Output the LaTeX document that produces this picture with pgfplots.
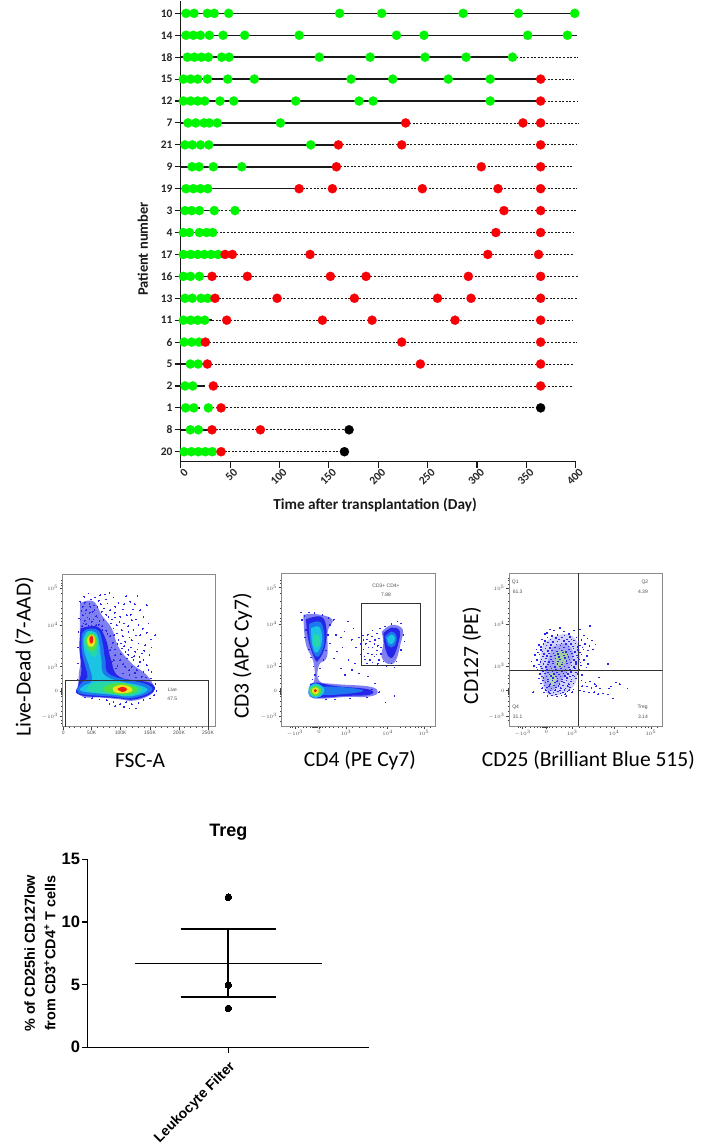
\documentclass[border=0pt]{standalone}
\usepackage{fontspec}
\usepackage{pgfplots}
\pgfplotsset{compat=1.18}
\setmainfont{Carlito}
\newfontfamily\arialf{Liberation Sans}
\definecolor{fgreen}{HTML}{00F500}
\definecolor{fred}{HTML}{F80006}
\definecolor{dBlue}{HTML}{2626EA}
\definecolor{dLight}{HTML}{8080F0}
\definecolor{dMid}{HTML}{1C78EC}
\definecolor{dCyan}{HTML}{1CC4E4}
\definecolor{dTeal}{HTML}{26D8A8}
\definecolor{dGreen}{HTML}{50E040}
\definecolor{dYellow}{HTML}{F2E21E}
\definecolor{dRed}{HTML}{EE1E10}
\definecolor{frame}{HTML}{8A8A8A}
\tikzset{flowlabel/.style={font=\arialf\fontsize{5}{6}\selectfont,text=black!70}}
\pgfplotsset{
  region/.style={draw=none,fill=#1,smooth,tension=0.7,forget plot},
  dots/.style={only marks,mark=*,mark size=4.6pt,color=#1,mark options={solid,draw=#1,fill=#1,line width=0.2pt}},
  specks/.style={only marks,mark=*,mark size=0.32pt,color=dBlue,mark options={draw=dBlue,fill=dBlue,line width=0pt}},
  flowpanel/.style={
    scale only axis,width=153.3pt,height=152.7pt,
    y dir=reverse,clip=true,
    axis line style={frame,line width=1pt},
    tick align=outside,xtick pos=lower,ytick pos=left,xticklabel pos=lower,
    major tick length=3pt,minor tick length=1.6pt,
    tick style={black!75,line width=0.45pt},
    ticklabel style={font=\arialf\fontsize{5}{5.5}\selectfont,text=black!70,inner sep=1.5pt},
    every axis x label/.style={at={(axis description cs:#1,-0.225)},anchor=center,font=\fontsize{21.5}{25}\selectfont},
  },
}
\begin{document}
\begin{tikzpicture}
\path[use as bounding box] (0pt,0pt) rectangle (709pt,-1145pt);

% follow-up timeline per patient
\begin{axis}[
  at={(180.7pt,-461.7pt)},anchor=south west,
  scale only axis,width=395pt,height=460.4pt,
  xmin=0,xmax=400,ymin=-0.456,ymax=20.55,clip=false,
  axis lines=left,axis line style={-,line width=1.4pt,black!90},
  xtick={0,50,...,400},
  xticklabels={0,50,100,150,200,250,300,350,400},
  ytick={0,...,20},
  yticklabels={20,8,1,2,5,6,11,13,16,17,4,3,19,9,21,7,12,15,18,14,10},
  major tick length=6pt,tick style={line width=1.1pt,black!90},tick align=outside,
  xticklabel style={font=\bfseries\fontsize{11.5}{12}\selectfont,rotate=45,anchor=north east,inner sep=1pt,xshift=3pt,yshift=-1pt,text=black!85},
  yticklabel style={font=\bfseries\fontsize{11.5}{12}\selectfont,inner sep=2pt,text=black!85},
  xlabel={Time after transplantation (Day)},
  ylabel={Patient number},
  every axis x label/.style={at={(axis description cs:0.492,-0.094)},anchor=center,font=\bfseries\fontsize{15.3}{17}\selectfont,text=black!90},
  every axis y label/.style={at={(axis description cs:-0.096,0.462)},rotate=90,anchor=center,font=\bfseries\fontsize{14.5}{16}\selectfont,text=black!90},
  unbounded coords=jump,
]
\addplot[black!90,line width=0.8pt,dash pattern=on 2pt off 1.6pt] coordinates {
 (336,18)(402,18)(nan,nan)(364.5,17)(398,17)(nan,nan)(364.5,16)(401,16)(nan,nan)
 (227.8,15)(403,15)(nan,nan)(159.7,14)(401,14)(nan,nan)(157.7,13)(397,13)(nan,nan)
 (119.9,12)(401,12)(nan,nan)(34,11)(401,11)(nan,nan)(32.4,10)(398,10)(nan,nan)
 (37.8,9)(398,9)(nan,nan)(31.7,8)(403,8)(nan,nan)(34.8,7)(401,7)(nan,nan)
 (31.7,6)(397,6)(nan,nan)(25,5)(401,5)(nan,nan)(27,4)(397,4)(nan,nan)
 (33,3)(397,3)(nan,nan)(28,2)(364.5,2)(nan,nan)(31.7,1)(170.5,1)(nan,nan)(40.9,0)(165.8,0)};
\addplot[black!90,line width=1.5pt] coordinates {
 (0,20)(399,20)(nan,nan)(0,19)(401.5,19)(nan,nan)(0,18)(336,18)(nan,nan)
 (0,17)(364.5,17)(nan,nan)(0,16)(364.5,16)(nan,nan)(0,15)(227.8,15)(nan,nan)
 (0,14)(159.7,14)(nan,nan)(0,13)(157.7,13)(nan,nan)(0,12)(119.9,12)(nan,nan)
 (0,11)(34,11)(nan,nan)(0,10)(32.4,10)(nan,nan)(0,9)(37.8,9)(nan,nan)
 (0,8)(31.7,8)(nan,nan)(0,7)(34.8,7)(nan,nan)(0,6)(31.7,6)(nan,nan)
 (0,5)(25,5)(nan,nan)(0,4)(27,4)(nan,nan)(0,3)(25,3)(nan,nan)(0,2)(20,2)(nan,nan)
 (0,1)(31.7,1)(nan,nan)(0,0)(40.9,0)};
% no rejection yet
\addplot[dots=fgreen] coordinates {
 (5.4,20)(13.5,20)(27,20)(34,20)(48.6,20)(161,20)(203.6,20)(286,20)(342,20)(399,20)
 (5.4,19)(12.8,19)(20,19)(29,19)(42.9,19)(64.8,19)(120,19)(218.5,19)(246.4,19)(351.4,19)(391.6,19)
 (6.8,18)(13.8,18)(21,18)(28,18)(41.5,18)(49,18)(140.4,18)(191.8,18)(247.4,18)(289,18)(336,18)
 (2.7,17)(10,17)(17.2,17)(27,17)(47.6,17)(74.6,17)(172.5,17)(214.7,17)(271,17)(313.4,17)
 (2.7,16)(10,16)(17.2,16)(24.3,16)(39.8,16)(53.7,16)(116.5,16)(180.6,16)(194.8,16)(313.4,16)
 (7.4,15)(15.2,15)(23.6,15)(29,15)(37,15)(101,15)
 (4.4,14)(11.8,14)(20,14)(28.4,14)(131.7,14)
 (11.5,13)(18.6,13)(33,13)(61.8,13)
 (5.4,12)(12.8,12)(20,12)(27.3,12)
 (4.4,11)(11.1,11)(18.9,11)(34,11)(55,11)
 (2.7,10)(8.8,10)(18.9,10)(26.3,10)(32.4,10)
 (2.7,9)(10,9)(17.2,9)(24,9)(30.7,9)(37.8,9)
 (2.7,8)(10,8)(18.9,8)
 (4.4,7)(11.8,7)(20.6,7)(27.3,7)
 (2.7,6)(10,6)(17.2,6)(24.3,6)
 (3.4,5)(11.1,5)(18.6,5)
 (9.8,4)(17.6,4)
 (4.4,3)(12.2,3)
 (5,2)(13.2,2)(28,2)
 (9.8,1)(17.9,1)
 (3.4,0)(10.8,0)(17.9,0)(25,0)(32,0)};
% rejection
\addplot[dots=fred] coordinates {
 (364.5,17)(364.5,16)(227.8,15)(346.6,15)(364.5,15)
 (159.7,14)(223.8,14)(364.5,14)(157.7,13)(304.4,13)(364.5,13)
 (119.9,12)(153.6,12)(244.7,12)(321.3,12)(364.5,12)
 (327.4,11)(364.5,11)(319.2,10)(364.5,10)
 (44.9,9)(52.3,9)(131,9)(311,9)(362.4,9)
 (31.7,8)(67.5,8)(151.6,8)(187.7,8)(291.3,8)(364.5,8)
 (34.8,7)(97.6,7)(175.9,7)(260,7)(294,7)(364.5,7)
 (46.6,6)(143.5,6)(193.8,6)(277.8,6)(364.5,6)
 (25,5)(223.8,5)(364.5,5)(27,4)(242.7,4)(364.5,4)
 (33,3)(364.5,3)(40.9,2)(31.7,1)(80.7,1)(40.9,0)};
% death
\addplot[dots=black] coordinates {(364.5,2)(170.5,1)(165.8,0)};
\end{axis}

% flow panel: live gate (read-off in panel pixels)
\begin{axis}[flowpanel=0.505,
  at={(62.7pt,-574pt)},anchor=north west,
  xmin=188,xmax=648,ymin=42,ymax=500,
  xtick={190,275,362,450,537,624},
  xticklabels={0,50K,100K,150K,200K,250K},
  minor xtick={207,224,241,258,292,310,327,345,380,397,415,432,467,485,502,520,554,572,589,607},
  ytick={85,195,320,394,470},
  yticklabels={$10^{5}$,$10^{4}$,$10^{3}$,$0$,$-10^{3}$},
  minor ytick={60,70,76,100,125,145,160,175,185,225,250,275,295,310,345,355,370,385,387,389,391,393,395,397,399,401,403,410,425,440,455,480,490},
  xlabel={FSC-A},
  ylabel={Live-Dead (7-AAD)},
  every axis y label/.style={at={(axis description cs:-0.25,0.458)},rotate=90,anchor=center,font=\fontsize{21.5}{25}\selectfont},
]
\addplot[region=dLight] coordinates {(240,130)(262,122)(285,128)(305,165)(335,205)(355,260)(395,310)(440,345)(462,385)(445,408)(400,422)(360,418)(300,412)(240,406)(236,350)(242,300)(240,240)(240,130)} -- cycle;
\addplot[region=dBlue] coordinates {(242,205)(292,200)(318,240)(332,295)(358,350)(448,368)(460,395)(404,418)(350,414)(238,404)(236,372)(244,330)(238,262)(242,205)} -- cycle;
\addplot[region=dMid] coordinates {(245,222)(262,207)(295,212)(308,250)(316,300)(332,345)(438,372)(452,395)(395,414)(345,410)(240,400)(240,374)(262,352)(256,320)(245,272)(245,222)} -- cycle;
\addplot[region=dCyan] coordinates {(250,235)(262,214)(288,218)(298,250)(304,300)(320,350)(425,378)(438,395)(390,409)(340,404)(248,394)(250,378)(276,362)(268,320)(252,272)(250,235)} -- cycle;
\addplot[region=dTeal] coordinates {(252,238)(268,216)(288,226)(293,258)(286,290)(270,280)(254,258)(252,238)} -- cycle;
\addplot[region=dTeal] coordinates {(282,368)(345,366)(415,380)(426,392)(388,407)(340,403)(262,391)(282,368)} -- cycle;
\addplot[region=dGreen] coordinates {(256,240)(270,221)(288,230)(290,256)(280,272)(265,266)(256,240)} -- cycle;
\addplot[region=dGreen] coordinates {(320,376)(365,368)(405,380)(412,392)(385,403)(340,400)(310,390)(320,376)} -- cycle;
\addplot[region=dYellow] coordinates {(262,235)(275,224)(285,235)(282,256)(270,260)(262,250)(262,235)} -- cycle;
\addplot[region=dYellow] coordinates {(340,382)(365,374)(392,382)(395,394)(365,400)(340,394)(340,382)} -- cycle;
\addplot[region=dRed] coordinates {(268,235)(275,226)(280,238)(276,250)(270,248)(268,235)} -- cycle;
\addplot[region=dRed] coordinates {(352,387)(367,380)(382,388)(367,396)(352,387)} -- cycle;
\addplot[specks] coordinates {
 (265,100)(252,110)(300,105)(315,103)(285,112)(272,118)(296,122)(322,130)(340,112)(355,128)(312,145)(330,150)(345,140)(372,132)(390,125)(412,108)(398,148)(420,150)(440,135)(430,170)
 (380,165)(360,170)(345,172)(325,170)(305,155)(292,140)(310,180)(332,190)(350,195)(372,190)(395,180)(415,195)(445,190)(465,225)(440,218)(420,225)(400,210)(385,215)(365,210)(350,220)
 (340,205)(355,240)(375,245)(395,240)(415,250)(435,255)(448,285)(425,280)(405,275)(385,270)(365,265)(380,295)(400,300)(420,305)(440,315)(455,335)(430,335)(410,330)(395,320)(375,320)
 (360,300)(342,225)(368,228)(388,232)(408,226)(352,252)(372,258)(392,262)(412,268)(432,272)(418,290)(402,288)(384,284)(362,282)(345,268)(430,300)(445,330)(452,355)(466,372)(470,392)
 (462,405)(450,415)(430,420)(415,428)(395,432)(378,426)(360,432)(340,425)(320,420)(298,418)(276,414)(255,412)(345,438)(372,440)(408,445)(328,432)(388,445)(248,140)(258,150)(270,140)
 (278,155)(288,168)(298,182)(248,165)(262,172)(275,185)(288,195)(250,190)(265,198)(306,198)(318,212)(330,228)(338,248)(345,285)(330,270)(335,305)(348,325)(368,340)(388,345)(408,352)
 (240,125)(236,175)(235,215)(233,262)(234,310)(232,360)(232,395)(254,128)(268,132)(281,136)(244,152)(256,160)(269,158)(283,150)(292,172)(241,178)(254,182)(268,176)(280,178)(246,198)(258,192)(274,196)(296,194)(306,210)(322,222)(334,262)(341,300)(352,318)
 (369,312)(387,330)(405,338)(425,350)(438,352)(318,164)(336,178)(358,186)(384,198)(408,178)(428,206)(392,164)(368,148)(344,158)(318,118)(302,132)(328,98)(378,108)(404,132)(452,238)(455,262)(376,276)(396,292)(414,318)(362,250)};
\addplot[black!80,line width=0.9pt] coordinates {(195,500)(195,362)(624,362)(624,500)};
\node[flowlabel] at (axis cs:517,388) {Live};
\node[flowlabel] at (axis cs:517,415) {47.5};
\end{axis}

% flow panel: CD3+ CD4+ gate
\begin{axis}[flowpanel=0.51,
  at={(281.7pt,-573.3pt)},anchor=north west,
  xmin=140,xmax=600,ymin=40,ymax=498,
  xtick={180,252,333,458,567},
  xticklabels={$-10^{3}$,$0$,$10^{3}$,$10^{4}$,$10^{5}$},
  minor xtick={165,172,190,205,215,225,232,234,236,238,240,242,244,246,248,256,262,270,282,296,310,322,352,372,395,415,435,445,495,510,525,540,550,558,585},
  ytick={83,193,318,393,470},
  yticklabels={$10^{5}$,$10^{4}$,$10^{3}$,$0$,$-10^{3}$},
  minor ytick={60,70,100,125,145,160,175,185,225,250,275,295,310,345,355,370,385,387,389,391,395,397,399,401,403,410,425,440,455,485},
  xlabel={CD4 (PE Cy7)},
  ylabel={CD3 (APC Cy7)},
  every axis y label/.style={at={(axis description cs:-0.255,0.458)},rotate=90,anchor=center,font=\fontsize{21.5}{25}\selectfont},
]
\addplot[region=dLight] coordinates {(205,165)(240,162)(292,178)(278,215)(276,290)(252,315)(252,362)(300,372)(405,380)(428,398)(400,410)(330,411)(260,416)(224,410)(222,385)(238,360)(235,305)(212,250)(205,165)} -- cycle;
\addplot[region=dBlue] coordinates {(213,178)(258,170)(274,205)(270,260)(252,298)(240,298)(220,240)(213,178)} -- cycle;
\addplot[region=dBlue] coordinates {(225,372)(250,368)(300,378)(400,388)(405,404)(330,408)(260,413)(228,410)(225,372)} -- cycle;
\addplot[region=dMid] coordinates {(222,192)(256,186)(268,230)(262,270)(244,290)(226,250)(222,192)} -- cycle;
\addplot[region=dCyan] coordinates {(228,205)(252,200)(261,232)(255,265)(242,278)(231,250)(228,205)} -- cycle;
\addplot[region=dMid] coordinates {(262,380)(330,382)(385,392)(330,402)(262,403)(262,380)} -- cycle;
\addplot[region=dCyan] coordinates {(222,380)(242,370)(265,382)(265,402)(242,414)(222,402)(222,380)} -- cycle;
\addplot[region=dTeal] coordinates {(235,225)(250,225)(255,250)(245,262)(235,250)(235,225)} -- cycle;
\addplot[region=dGreen] coordinates {(226,385)(241,376)(257,385)(257,400)(241,409)(226,400)(226,385)} -- cycle;
\addplot[region=dYellow] coordinates {(232,388)(241,382)(251,388)(251,398)(241,403)(232,398)(232,388)} -- cycle;
\addplot[region=dRed] coordinates {(237,390)(241,387)(246,391)(241,397)(237,394)(237,390)} -- cycle;
\addplot[region=dLight] coordinates {(440,215)(470,195)(503,208)(497,250)(482,302)(460,312)(440,290)(445,250)(440,215)} -- cycle;
\addplot[region=dBlue] coordinates {(445,220)(470,203)(494,213)(490,250)(476,288)(462,291)(450,262)(445,220)} -- cycle;
\addplot[region=dMid] coordinates {(450,230)(470,215)(485,230)(478,258)(460,258)(450,230)} -- cycle;
\addplot[region=dCyan] coordinates {(456,234)(470,224)(480,233)(474,250)(462,250)(456,234)} -- cycle;
\addplot[specks] coordinates {
 (198,158)(208,168)(222,158)(238,160)(262,165)(280,175)(296,180)(285,195)(200,180)(212,210)(278,225)(285,250)(210,232)(222,268)(272,272)(228,292)(265,300)(235,320)(255,325)(240,345)(250,350)(232,358)
 (302,225)(318,232)(328,215)(338,185)(355,205)(350,240)(362,262)(322,262)(306,275)(296,296)(340,300)(360,310)(318,325)(330,345)(350,330)(372,340)(398,350)(420,370)(410,388)(432,396)(395,412)(345,415)(300,418)(272,418)
 (372,232)(385,240)(398,225)(412,212)(425,220)(392,252)(405,245)(420,240)(432,235)(385,268)(398,280)(412,262)(425,272)(438,262)(390,298)(405,300)(418,290)(432,300)(445,305)(455,320)(470,310)(485,305)(478,322)(498,270)(508,245)(505,225)(498,190)(488,185)(470,192)(450,200)(435,205)(478,408)(452,428)
 (384,226)(396,238)(410,230)(378,252)(400,262)(418,252)(428,258)(376,284)(388,290)(410,284)(424,284)(438,282)(396,310)(412,308)(428,312)};
\addplot[black!80,line width=0.9pt] coordinates {(380,130)(557,130)(557,316)(380,316)(380,130)};
\node[flowlabel] at (axis cs:453,77) {CD3+ CD4+};
\node[flowlabel] at (axis cs:453,104) {7.88};
\end{axis}

% flow panel: CD25 / CD127 quadrants
\begin{axis}[flowpanel=0.516,
  at={(509.3pt,-573.3pt)},anchor=north west,
  xmin=133,xmax=593,ymin=40,ymax=498,
  xtick={173,244,322,448,558},
  xticklabels={$-10^{3}$,$0$,$10^{3}$,$10^{4}$,$10^{5}$},
  minor xtick={160,166,182,196,208,218,226,232,234,236,238,240,242,246,248,254,262,275,288,300,312,342,362,385,405,425,438,485,500,515,530,542,550,578},
  ytick={85,193,318,392,468},
  yticklabels={$10^{5}$,$10^{4}$,$10^{3}$,$0$,$-10^{3}$},
  minor ytick={55,62,72,100,125,145,160,175,185,225,250,275,295,310,345,355,370,384,386,388,390,394,396,398,400,402,410,425,440,455,480},
  xlabel={CD25 (Brilliant Blue 515)},
  ylabel={CD127 (PE)},
  every axis y label/.style={at={(axis description cs:-0.245,0.46)},rotate=90,anchor=center,font=\fontsize{21.5}{25}\selectfont},
]
\addplot[region=dLight!35] coordinates {(235,250)(280,225)(325,230)(345,275)(340,330)(325,380)(280,405)(245,400)(228,350)(225,300)(235,250)} -- cycle;
\addplot[region=dLight!70] coordinates {(262,262)(300,250)(325,280)(312,325)(290,360)(262,392)(240,380)(240,335)(262,262)} -- cycle;
\addplot[region=gray!55!dGreen!60] coordinates {(272,278)(300,272)(305,295)(290,322)(275,318)(272,278)} -- cycle;
\addplot[region=gray!55!dGreen!50] coordinates {(250,345)(268,340)(272,365)(258,378)(250,345)} -- cycle;
\addplot[specks] coordinates {
 (255,208)(268,212)(285,204)(298,215)(312,222)(328,212)(345,208)(358,226)(376,198)(240,222)(232,238)(248,232)(262,228)(278,225)(292,232)(306,238)(320,238)(335,232)(350,240)(368,236)(382,242)(222,255)(236,252)(250,248)(264,246)(278,244)(290,250)(304,252)(318,252)(332,250)(346,256)(360,252)(374,258)(392,254)
 (215,268)(228,270)(242,266)(256,264)(270,262)(284,266)(298,262)(312,268)(326,266)(340,270)(356,268)(370,272)(385,268)(210,285)(224,284)(238,282)(252,280)(266,280)(280,282)(294,278)(308,284)(322,280)(336,286)(350,284)(366,288)(200,305)(216,300)(230,298)(244,296)(258,298)(272,296)(286,298)(300,294)(314,298)(328,300)(342,298)(358,300)
 (370,312)(208,318)(222,314)(236,312)(250,314)(264,310)(278,312)(292,314)(306,310)(320,316)(334,312)(348,316)(365,322)(218,328)(232,326)(246,330)(260,326)(274,328)(288,326)(302,330)(316,328)(330,326)(344,328)(226,342)(240,340)(254,344)(268,342)(282,344)(296,340)(310,342)(324,346)(338,342)(352,345)
 (222,356)(236,354)(250,358)(264,354)(278,356)(292,358)(306,354)(320,358)(334,356)(228,370)(242,368)(256,372)(270,368)(284,372)(298,368)(312,372)(326,370)(205,396)(232,384)(246,382)(260,386)(274,382)(288,384)(302,386)(316,382)(238,398)(252,396)(266,398)(280,394)(294,398)(308,394)(322,396)(248,408)(262,406)(276,410)(290,406)(304,408)
 (350,362)(362,368)(376,364)(390,372)(402,352)(352,378)(366,380)(380,384)(394,378)(405,386)(346,392)(358,394)(372,398)(388,396)(400,402)(415,400)(432,385)(438,380)(430,404)(445,415)(453,368)(465,372)(488,386)(430,312)
 (247,219)(274,234)(299,226)(315,231)(241,243)(257,239)(283,239)(297,243)(313,245)(327,241)(341,245)(229,261)(245,257)(259,255)(275,253)(287,257)(311,259)(325,259)(339,261)(353,262)(219,277)(233,275)(249,273)(261,271)(277,274)(291,272)(303,276)(317,274)(331,276)(345,278)
 (235,290)(247,288)(259,289)(271,287)(283,291)(297,287)(311,291)(325,290)(339,292)(227,306)(241,304)(253,306)(265,304)(279,305)(293,307)(305,303)(319,307)(333,306)(347,307)(215,322)(229,320)(243,321)(257,319)(271,321)(285,320)(299,319)(313,322)(327,321)(235,335)(249,337)(263,335)(277,337)(291,335)(305,337)(319,336)(333,337)
 (231,349)(245,349)(259,348)(273,350)(287,349)(301,348)(315,350)(329,349)(235,362)(249,364)(263,362)(277,363)(291,364)(305,362)(319,364)(239,376)(253,378)(267,376)(281,378)(295,376)(309,378)(243,390)(257,391)(271,390)(285,391)(299,390)(313,390)(255,401)(273,403)(287,400)(301,402)(326,388)};
\addplot[black!80,line width=1pt] coordinates {(342,40)(342,498)};
\addplot[black!80,line width=1pt] coordinates {(133,333)(593,333)};
\node[flowlabel] at (axis cs:151,67) {Q1};
\node[flowlabel] at (axis cs:158,94) {61.3};
\node[flowlabel] at (axis cs:540,67) {Q2};
\node[flowlabel] at (axis cs:534,94) {4.39};
\node[flowlabel] at (axis cs:152,442) {Q4};
\node[flowlabel] at (axis cs:158,470) {31.1};
\node[flowlabel] at (axis cs:533,443) {Treg};
\node[flowlabel] at (axis cs:534,470) {3.14};
\end{axis}

% Treg percentage, mean and SD
\begin{axis}[
  at={(87.7pt,-1047.3pt)},anchor=south west,
  scale only axis,width=281.3pt,height=188pt,
  xmin=-1,xmax=1,ymin=0,ymax=15,clip=false,
  axis lines=left,axis line style={-,line width=1.1pt,black},
  xtick={0},xticklabels={Leukocyte Filter},
  ytick={0,5,10,15},yticklabels={0,5,10,15},
  major tick length=5.5pt,tick style={line width=1.1pt,black},tick align=outside,
  xticklabel style={font=\arialf\bfseries\fontsize{14}{16}\selectfont,rotate=45,anchor=north east,inner sep=1pt,xshift=-4pt,yshift=-4pt},
  yticklabel style={font=\arialf\bfseries\fontsize{16.5}{18}\selectfont,inner sep=2pt},
  title={Treg},
  every axis title/.style={at={(axis description cs:0.5,1.145)},anchor=center,font=\arialf\bfseries\fontsize{18}{20}\selectfont},
  ylabel={\% of CD25hi CD127low\\from CD3\textsuperscript{+}CD4\textsuperscript{+} T cells},
  every axis y label/.style={at={(axis description cs:-0.17,0.5)},rotate=90,anchor=center,align=center,font=\arialf\bfseries\fontsize{14.4}{20.5}\selectfont},
]
\addplot[black,line width=1.1pt] coordinates {(-0.667,6.68)(0.667,6.68)};
\addplot[black,line width=2pt] coordinates {(0,3.99)(0,9.41)};
\addplot[black,line width=2pt] coordinates {(-0.339,9.41)(0.339,9.41)};
\addplot[black,line width=2pt] coordinates {(-0.339,3.99)(0.339,3.99)};
\addplot[only marks,mark=*,mark size=3.3pt,color=black,mark options={fill=black,line width=0pt}] coordinates {(0,11.97)(0,4.97)(0,3.11)};
\end{axis}
\end{tikzpicture}
\end{document}
